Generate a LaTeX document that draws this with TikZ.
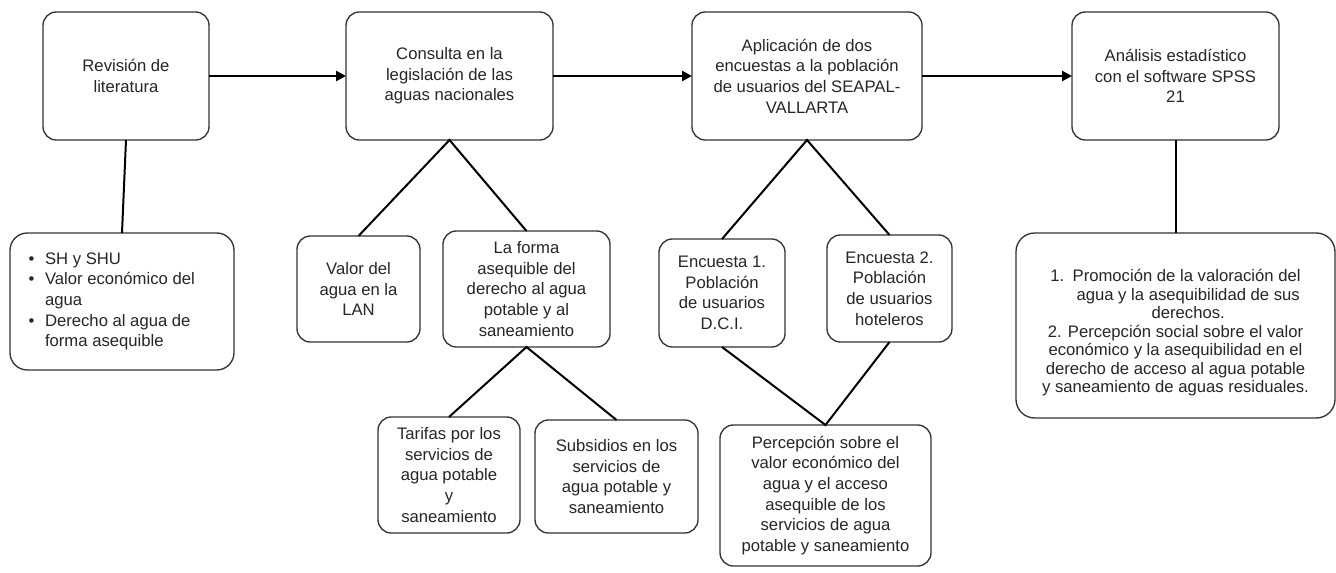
\documentclass[tikz,border=0pt]{standalone}
\usepackage{fontspec}
\setmainfont{Liberation Sans}
\usepackage{tikz}
\usetikzlibrary{shapes, arrows.meta, positioning}

\begin{document}
\begin{tikzpicture}[x=0.75pt, y=-0.75pt,
            caja/.style={draw=black!80, line width=1pt, rounded corners=10pt, fill=white, text=black!85,
                align=center, inner sep=0pt, outer sep=0pt, font=\fontsize{12.5}{15.5}\selectfont},
            flecha/.style={line width=2.2pt, -{Triangle[length=7.5pt, width=7.5pt]}},
            enlace/.style={line width=1.5pt}]
            \useasboundingbox (0,0) rectangle (1336,572);
            \node[caja, minimum width=124.5pt, minimum height=96pt] (revision) at (126,76) {Revisión de\\literatura};
            \node[caja, minimum width=155.25pt, minimum height=96pt] (consulta) at (449.5,76) {Consulta en la\\legislación de las\\aguas nacionales};
            \node[caja, minimum width=172.5pt, minimum height=96pt] (aplicacion) at (807,76) {Aplicación de dos\\encuestas a la población\\de usuarios del SEAPAL-\\VALLARTA};
            \node[caja, minimum width=155.25pt, minimum height=96pt] (analisis) at (1175.5,76) {Análisis estadístico\\con el software SPSS\\21};
            \node[caja, rounded corners=13pt, minimum width=168pt, minimum height=102.75pt] (literatura) at (122,301.5) {
                \begin{tabular}{@{}c@{\hspace{8pt}}l@{}}
                    \textbullet & SH y SHU \\
                    \textbullet & Valor económico del \\
                                & agua \\
                    \textbullet & Derecho al agua de \\
                                & forma asequible
                \end{tabular}\hspace{12pt}
            };
            \node[caja, minimum width=92.25pt, minimum height=79.5pt] (valor) at (358.5,289) {Valor del\\agua en la\\LAN};
            \node[caja, minimum width=125.25pt, minimum height=87pt] (forma) at (526.5,289) {La forma\\asequible del\\derecho al agua\\potable y al\\saneamiento};
            \node[caja, minimum width=106.5pt, minimum height=87pt] (tarifas) at (449,475) {Tarifas por los\\servicios de\\agua potable\\y\\saneamiento};
            \node[caja, minimum width=122.25pt, minimum height=84.75pt] (subsidios) at (616.5,476.5) {Subsidios en los\\servicios de\\agua potable y\\saneamiento};
            \node[caja, minimum width=94.5pt, minimum height=81pt] (encuestauno) at (722,293) {Encuesta 1.\\Población\\de usuarios\\D.C.I.};
            \node[caja, minimum width=93.75pt, minimum height=80.25pt] (encuestados) at (889.5,288.5) {Encuesta 2.\\Población\\de usuarios\\hoteleros};
            \node[caja, minimum width=158.25pt, minimum height=105.75pt] (percepcion) at (825.5,495.5) {Percepción sobre el\\valor económico del\\agua y el acceso\\asequible de los\\servicios de agua\\potable y saneamiento};
            \node[caja, rounded corners=14pt, minimum width=239.25pt, minimum height=138.75pt, font=\fontsize{12.5}{13.9}\selectfont] (resultados) at (1175.5,325.5) {
                \rule{0pt}{20pt}1.\enspace Promoción de la valoración del\\
                \hspace*{19pt}agua y la asequibilidad de sus\\
                \hspace*{19pt}derechos.\\
                2. Percepción social sobre el valor\\
                económico y la asequibilidad en el\\
                derecho de acceso al agua potable\\
                y saneamiento de aguas residuales.};
            \draw[flecha] (revision) -- (consulta);
            \draw[flecha] (consulta) -- (aplicacion);
            \draw[flecha] (aplicacion) -- (analisis);
            \draw[enlace] (revision.south) -- (literatura.north);
            \draw[enlace] (valor.north) -- (consulta.south) -- (forma.north);
            \draw[enlace] (tarifas.north) -- (forma.south) -- (subsidios.north);
            \draw[enlace] (encuestauno.north) -- (aplicacion.south) -- (encuestados.north);
            \draw[enlace] (encuestauno.south) -- (percepcion.north) -- (encuestados.south);
            \draw[enlace] (analisis.south) -- (resultados.north);
        \end{tikzpicture}
\end{document}
